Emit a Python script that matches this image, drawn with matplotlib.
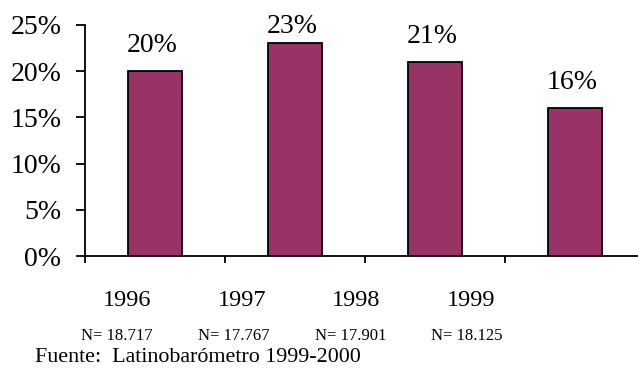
import matplotlib.pyplot as plt

plt.rcParams["font.family"] = ["Liberation Serif", "DejaVu Serif"]

years = ["1996", "1997", "1998", "1999"]
shares = [20, 23, 21, 16]
sample_sizes = ["N= 18.717", "N= 17.767", "N= 17.901", "N= 18.125"]
source = "Fuente:  Latinobarómetro 1999-2000"

W, H = 638, 379
fig = plt.figure(figsize=(W / 100, H / 100), dpi=100)

# plot area in pixels: left 85, top 25, zero line at 256, four 140px slots
ax = fig.add_axes([85 / W, (H - 256) / H, 560 / W, 231 / H])

x = list(range(len(years)))
ax.bar(x, shares, width=0.39, color="#993366", edgecolor="black", linewidth=1.3, zorder=2)

for xi, v in zip(x, shares):
    # labels sit ~2 points above the bar, but never above the plot top
    ax.text(xi - 0.02, min(v + 2.05, 24.1), f"{v}%", ha="center", va="baseline", fontsize=20)

ax.set_xlim(-0.5, 3.5)
ax.set_ylim(0, 25)
ax.set_yticks(range(0, 26, 5))
ax.set_yticklabels([f"{t}%" for t in range(0, 26, 5)], fontsize=20)
ax.set_xticks([-0.5, 0.5, 1.5, 2.5, 3.5])
ax.set_xticklabels([])

for side in ("top", "right"):
    ax.spines[side].set_visible(False)
for side in ("left", "bottom"):
    ax.spines[side].set_linewidth(1.3)
ax.tick_params(axis="y", direction="out", length=6.5, width=1.3, pad=10.5)
ax.tick_params(axis="x", direction="out", length=5, width=1.3)

# category labels and sample sizes below the axis
for i, (yr, n) in enumerate(zip(years, sample_sizes)):
    fig.text((127 + 114.7 * i) / W, (H - 306.5) / H, yr, ha="center", va="baseline", fontsize=17.5)
    fig.text((117 + 116.7 * i) / W, (H - 340) / H, n, ha="center", va="baseline", fontsize=12)

fig.text(35 / W, (H - 361.5) / H, source, ha="left", va="baseline", fontsize=15.8)

fig.savefig("out.png", dpi=100)
